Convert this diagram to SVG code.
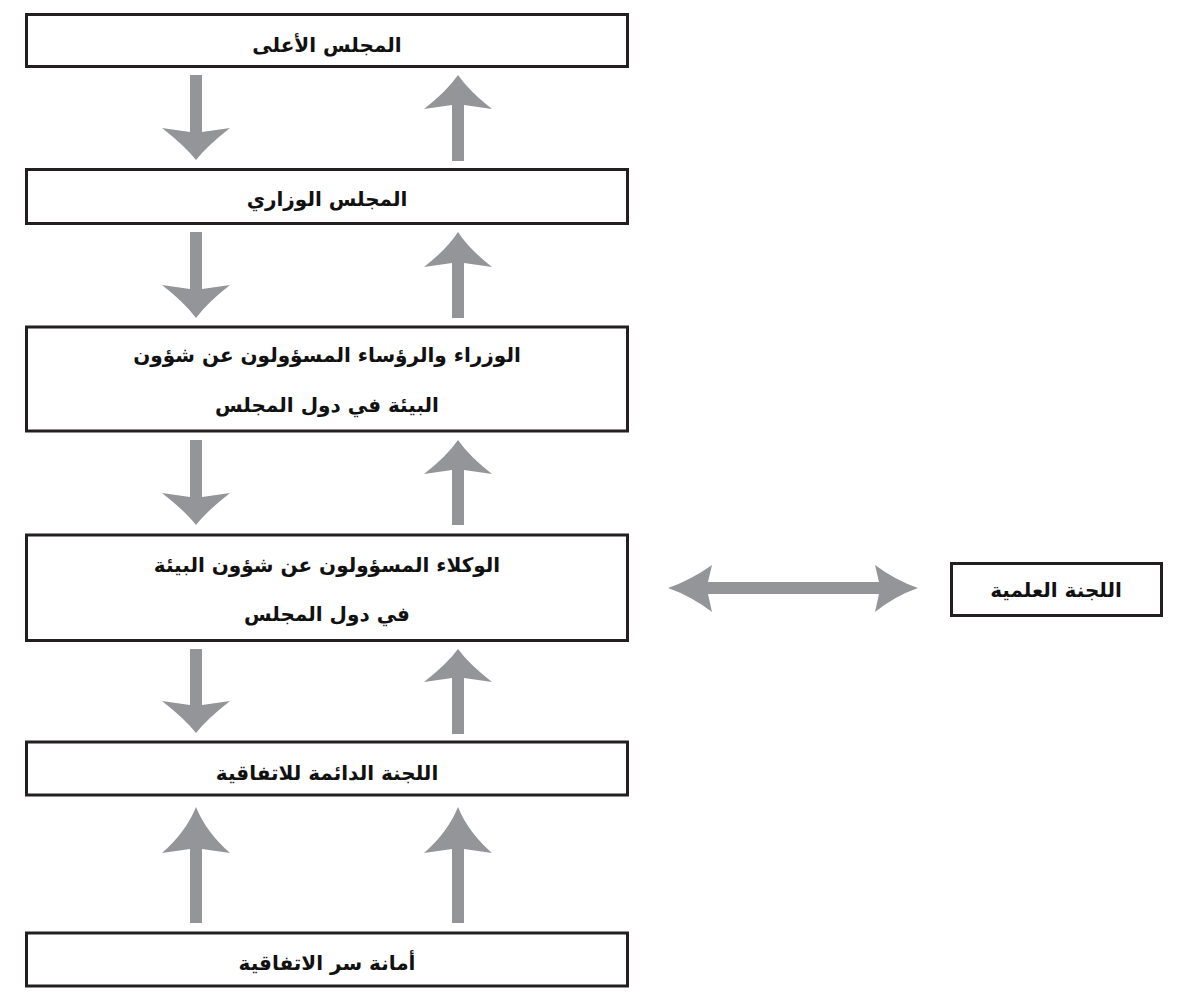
<svg xmlns="http://www.w3.org/2000/svg" width="1200" height="996" viewBox="0 0 1200 996">
<style>
.box{fill:#fff;stroke:#231f20;stroke-width:3}
.t{font-family:"DejaVu Sans","Noto Sans",sans-serif;font-weight:bold;font-size:20px;fill:#111;text-anchor:middle}
.arr{fill:#939598;stroke:none}
</style>
<rect width="1200" height="996" fill="#fff"/>
<g id="connectors">
<!-- pair 1 -->
<path class="arr" d="M190 75 H202 V132 L230 128 Q207 146 196 160 Q185 146 162 128 L190 132 Z"/>
<path class="arr" d="M452 161 H464 V105 L492 109 Q469 91 458 75 Q447 91 424 109 L452 105 Z"/>
<!-- pair 2 -->
<path class="arr" d="M190 232 H202 V289 L230 285 Q207 303 196 318 Q185 303 162 285 L190 289 Z"/>
<path class="arr" d="M452 318 H464 V263 L492 267 Q469 249 458 232 Q447 249 424 267 L452 263 Z"/>
<!-- pair 3 -->
<path class="arr" d="M190 440 H202 V497 L230 493 Q207 511 196 525 Q185 511 162 493 L190 497 Z"/>
<path class="arr" d="M452 525 H464 V470 L492 474 Q469 456 458 440 Q447 456 424 474 L452 470 Z"/>
<!-- pair 4 -->
<path class="arr" d="M190 649 H202 V705 L230 701 Q207 719 196 733 Q185 719 162 701 L190 705 Z"/>
<path class="arr" d="M452 734 H464 V678 L492 682 Q469 664 458 649 Q447 664 424 682 L452 678 Z"/>
<!-- pair 5 -->
<path class="arr" d="M190 923 H202 V849 L230 853 Q206 832 196 807 Q186 832 162 853 L190 849 Z"/>
<path class="arr" d="M452 923 H464 V849 L492 853 Q468 832 458 807 Q448 832 424 853 L452 849 Z"/>
<!-- double arrow -->
<path class="arr" d="M708 582 H879 L875 565 Q895 580 918 588 Q895 596 875 612 L879 594 H708 L712 612 Q691 596 668 588 Q691 580 712 565 Z"/>
</g>
<g id="n1">
<rect class="box" x="26.5" y="14.5" width="601" height="52"/>
<text class="t" x="327" y="52">المجلس الأعلى</text>
</g>
<g id="n2">
<rect class="box" x="26.5" y="169.5" width="601" height="54"/>
<text class="t" x="327" y="206">المجلس الوزاري</text>
</g>
<g id="n3">
<rect class="box" x="26.5" y="327" width="601" height="104"/>
<text class="t" x="327" y="362">الوزراء والرؤساء المسؤولون عن شؤون</text>
<text class="t" x="327" y="412">البيئة في دول المجلس</text>
</g>
<g id="n4">
<rect class="box" x="26.5" y="535" width="601" height="105.5"/>
<text class="t" x="327" y="572">الوكلاء المسؤولون عن شؤون البيئة</text>
<text class="t" x="327" y="621">في دول المجلس</text>
</g>
<g id="n5">
<rect class="box" x="26.5" y="742" width="601" height="53"/>
<text class="t" x="327" y="780">اللجنة الدائمة للاتفاقية</text>
</g>
<g id="n6">
<rect class="box" x="26.5" y="933" width="601" height="53"/>
<text class="t" x="327" y="970">أمانة سر الاتفاقية</text>
</g>
<g id="n7">
<rect class="box" x="951.5" y="563.5" width="210" height="52"/>
<text class="t" x="1056" y="597">اللجنة العلمية</text>
</g>
</svg>
